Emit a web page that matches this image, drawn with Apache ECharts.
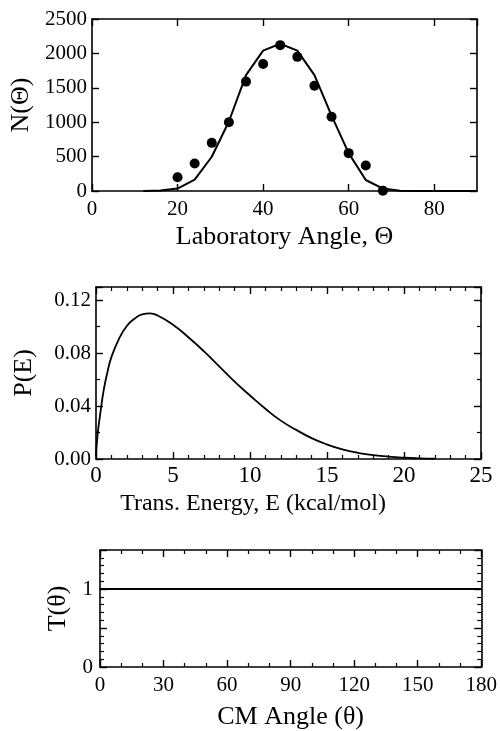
<!DOCTYPE html>
<html>
<head>
<meta charset="utf-8">
<script src="https://cdn.jsdelivr.net/npm/echarts@6/dist/echarts.min.js"></script>
<style>
  html, body { margin: 0; padding: 0; background: #fff; }
  #main { width: 500px; height: 731px; }
</style>
</head>
<body>
<div id="main"></div>
<script>
// top panel: measured points and fit
const labAngle = [20, 24, 28, 32, 36, 40, 44, 48, 52, 56, 60, 64, 68];
const labCounts = [200, 400, 700, 1000, 1590, 1845, 2120, 1950, 1530, 1080, 550, 370, 5];
const fitAngle = [12, 16, 20, 24, 28, 32, 36, 40, 44, 48, 52, 56, 60, 64, 68, 72, 76, 80, 84, 88, 90];
const fitCounts = [0, 8, 35, 166, 498, 1010, 1685, 2040, 2140, 2040, 1685, 1095, 550, 160, 35, 5, 0, 0, 0, 0, 0];

// middle panel: P(E)
const energy = [0, 0.1, 0.25, 0.5, 0.75, 1, 1.5, 2, 2.5, 3, 3.5, 4, 5, 6, 7, 8, 9, 10, 11, 12, 13, 14, 15, 16, 17, 18, 19, 20, 21, 22];
const probE = [0.002, 0.018, 0.032, 0.052, 0.066, 0.077, 0.091, 0.1005, 0.106, 0.1093, 0.1100, 0.1085, 0.1015, 0.092, 0.0815,
  0.070, 0.0585, 0.048, 0.038, 0.029, 0.022, 0.0158, 0.011, 0.0073, 0.0047, 0.003, 0.0018, 0.001, 0.0005, 0.0002];

// bottom panel: T(theta)
const cmAngle = [0, 180];
const tTheta = [1, 1];

const FONT = '"Liberation Serif", "DejaVu Serif", serif';

const chart = echarts.init(document.getElementById('main'), null, { renderer: 'canvas' });

function pairs(xs, ys) {
  return xs.map((x, i) => [x, ys[i]]);
}

// one axis of the box frame, ticks pointing inward
function axis(grid, pos, min, max, interval, minorSplit, extra) {
  const a = {
    type: 'value',
    gridIndex: grid,
    position: pos,
    min: min,
    max: max,
    interval: interval,
    splitLine: { show: false },
    axisLine: { show: true, onZero: false, lineStyle: { color: '#000', width: 1.6 } },
    axisTick: { show: true, inside: true, length: 7, lineStyle: { color: '#000', width: 1.4 } },
    minorTick: { show: !!minorSplit, splitNumber: minorSplit || 5, length: 4, lineStyle: { color: '#000', width: 1.2 } },
    axisLabel: {
      show: pos === 'bottom' || pos === 'left',
      color: '#000', fontFamily: FONT, fontSize: 21,
      formatter: v => String(v)
    }
  };
  return Object.assign(a, extra || {});
}

function nameStyle(size, pad) {
  return { color: '#000', fontFamily: FONT, fontSize: size, padding: pad || 0 };
}

const option = {
  backgroundColor: '#fff',
  animation: false,
  grid: [
    { left: 92, right: 23, top: 19, height: 172 },
    { left: 96, right: 19, top: 287, height: 172 },
    { left: 100, right: 17, top: 550, height: 119 }
  ],
  xAxis: [
    axis(0, 'bottom', 0, 90, 20, 0, {
      name: 'Laboratory Angle, Θ', nameLocation: 'middle', nameGap: 33,
      nameTextStyle: nameStyle(26)
    }),
    axis(0, 'top', 0, 90, 20, 0),
    axis(1, 'bottom', 0, 25, 5, 5, {
      name: 'Trans. Energy, E (kcal/mol)', nameLocation: 'middle', nameGap: 33,
      nameTextStyle: nameStyle(24, [0, 71, 0, 0])
    }),
    axis(1, 'top', 0, 25, 5, 5),
    axis(2, 'bottom', 0, 180, 30, 3, {
      name: 'CM Angle (θ)', nameLocation: 'middle', nameGap: 37,
      nameTextStyle: nameStyle(26)
    }),
    axis(2, 'top', 0, 180, 30, 3)
  ],
  yAxis: [
    axis(0, 'left', 0, 2500, 500, 0, {
      name: 'N(Θ)', nameLocation: 'middle', nameGap: 50,
      nameTextStyle: nameStyle(26)
    }),
    axis(0, 'right', 0, 2500, 500, 0),
    axis(1, 'left', 0, 0.13, 0.04, 2, {
      name: 'P(E)', nameLocation: 'middle', nameGap: 59,
      nameTextStyle: nameStyle(26)
    }),
    axis(1, 'right', 0, 0.13, 0.04, 2),
    axis(2, 'left', 0, 1.5, 0.5, 5, {
      name: 'T(θ)', nameLocation: 'middle', nameGap: 27,
      nameTextStyle: nameStyle(26)
    }),
    axis(2, 'right', 0, 1.5, 0.5, 5)
  ],
  series: [
    {
      type: 'scatter', xAxisIndex: 0, yAxisIndex: 0,
      data: pairs(labAngle, labCounts),
      symbol: 'circle', symbolSize: 10,
      itemStyle: { color: '#000', opacity: 1 }
    },
    {
      type: 'line', xAxisIndex: 0, yAxisIndex: 0,
      data: pairs(fitAngle, fitCounts),
      showSymbol: false,
      lineStyle: { color: '#000', width: 2 }
    },
    {
      type: 'line', xAxisIndex: 2, yAxisIndex: 2,
      data: pairs(energy, probE),
      smooth: true, showSymbol: false,
      lineStyle: { color: '#000', width: 1.8 }
    },
    {
      type: 'line', xAxisIndex: 4, yAxisIndex: 4,
      data: pairs(cmAngle, tTheta),
      showSymbol: false,
      lineStyle: { color: '#000', width: 1.8 }
    }
  ]
};

// label tweaks
option.xAxis[0].axisLabel.showMaxLabel = false;
option.xAxis[2].axisLabel.fontSize = 23;
option.xAxis[2].axisLabel.margin = 5;
option.yAxis[2].axisLabel.showMaxLabel = false;
option.yAxis[2].axisLabel.formatter = v => v.toFixed(2);
option.yAxis[4].axisLabel.formatter = v => (v === 0 || v === 1) ? String(v) : '';
option.yAxis[0].axisLabel.margin = 5;
option.yAxis[2].axisLabel.margin = 5;
option.yAxis[4].axisLabel.margin = 7;

chart.setOption(option);
</script>
</body>
</html>
